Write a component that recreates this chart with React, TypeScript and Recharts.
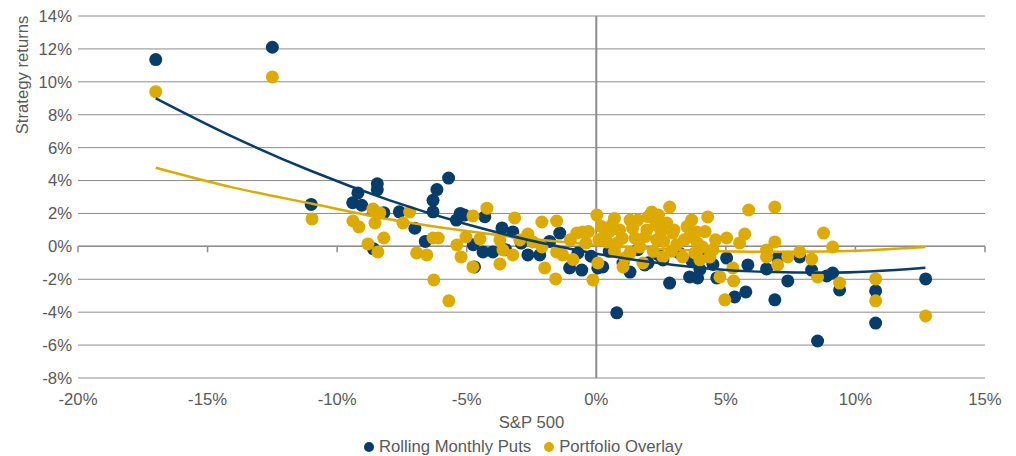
import {
  ScatterChart,
  Scatter,
  XAxis,
  YAxis,
  CartesianGrid,
  ReferenceLine,
  Legend,
  Label,
} from 'recharts'

const NAVY = '#073c6b'
const GOLD = '#dcaa00'
const GRID = '#8c8c8c'
const TEXT = '#595959'
const FONT = '"Liberation Sans", Arial, sans-serif'
const FONT_SIZE = 16.7

// S&P 500 monthly return vs strategy return, both in %
const monthlyPuts: [number, number][] = [
  [-17.0, 11.35], [-12.5, 12.1], [-11.0, 2.55], [-9.4, 2.65], [-9.2, 3.25], [-9.05, 2.5],
  [-8.45, 3.8], [-8.45, 3.45], [-8.6, 2.2], [-8.6, -0.15], [-8.2, 2.05], [-7.6, 2.1],
  [-7.0, 1.1], [-6.6, 0.3], [-6.3, 2.8], [-6.3, 2.1], [-6.15, 3.45], [-5.7, 4.15],
  [-5.4, 1.6], [-5.25, 2.0], [-5.1, 1.9], [-4.75, 0.1], [-4.7, -1.25], [-4.3, 1.8],
  [-4.37, -0.34], [-3.99, -0.34], [-3.64, 1.12], [-3.22, 0.88], [-2.64, -0.52], [-2.18, -0.52],
  [-1.41, 0.81], [-1.03, -1.31], [-0.56, -1.44], [-0.71, -0.4], [0.06, -1.31], [0.25, -1.25],
  [1.03, -1.01], [1.3, -1.56], [1.87, -1.13], [2.57, -0.83], [2.83, -2.23], [3.6, -1.86],
  [3.91, -1.92], [0.79, -4.04], [4.65, -1.92], [5.03, -0.71], [5.34, -3.07], [5.77, -2.77],
  [5.85, -1.13], [6.57, -1.37], [7.0, -0.71], [7.39, -2.1], [6.89, -3.25], [7.85, -0.64],
  [8.31, -1.44], [8.89, -1.8], [9.12, -1.62], [9.39, -2.65], [8.54, -5.75], [10.78, -2.71],
  [10.78, -4.66], [12.71, -1.98], [0.5, -0.3], [1.6, -0.2], [2.4, -0.5], [3.2, -0.4],
  [3.7, -0.9], [4.3, -0.6], [-1.8, 0.3], [-2.9, 0.2], [-0.2, -0.6], [4.5, -1.1],
  [-3.5, -0.2], [2.0, -1.0], [4.0, -1.4],
]

const portfolioOverlay: [number, number][] = [
  [-17.0, 9.4], [-12.5, 10.3], [-10.97, 1.67], [-9.39, 1.54], [-9.16, 1.18], [-8.62, 2.27],
  [-8.35, 2.03], [-8.54, 1.42], [-8.81, 0.15], [-8.2, 0.51], [-8.43, -0.34], [-7.46, 1.42],
  [-7.2, 2.09], [-6.93, -0.4], [-6.54, -0.52], [-6.3, 0.51], [-6.1, 0.51], [-6.27, -2.04],
  [-5.69, -3.31], [-5.38, 0.09], [-5.22, -0.64], [-5.03, 0.57], [-4.76, 1.85], [-4.76, -1.25],
  [-4.49, 0.45], [-4.22, 2.32], [-3.72, -1.07], [-3.72, 0.39], [-3.15, 1.73], [-3.22, -0.52],
  [-2.64, 0.75], [-2.1, 1.48], [-1.53, 1.54], [-1.99, -1.31], [-1.57, -1.98], [-1.53, -0.34],
  [-1.3, -0.52], [-0.75, 0.81], [-0.52, 0.88], [-0.13, -2.04], [0.02, 1.9], [0.06, -1.01],
  [-2.1, -0.04], [-2.45, 0.27], [-3.6, -0.22], [-2.95, 0.39], [0.6, 1.3], [1.3, 1.6],
  [2.14, 2.09], [2.83, 2.39], [3.68, 1.6], [4.3, 1.79], [5.03, 0.51], [0.41, 0.27],
  [1.68, -0.04], [2.33, 0.39], [2.95, 0.81], [3.6, 0.57], [4.1, -0.04], [3.33, -0.64],
  [4.38, -0.64], [4.77, -1.86], [5.3, -2.1], [4.96, -3.25], [0.9, 1.0], [1.95, 1.0],
  [2.72, 1.42], [3.87, 0.88], [1.3, -0.4], [2.57, -0.64], [4.0, -0.83], [1.03, -1.25],
  [1.8, -1.01], [5.88, 2.21], [6.89, 2.39], [5.73, 0.75], [5.53, 0.21], [6.57, -0.22],
  [6.89, 0.27], [7.0, -1.13], [7.39, -0.64], [7.85, -0.34], [8.31, -0.77], [8.77, 0.81],
  [9.12, -0.04], [8.54, -1.86], [9.39, -2.23], [5.27, -1.31], [6.57, -0.64], [10.78, -1.98],
  [10.78, -3.31], [12.71, -4.23], [0.3, 0.6], [0.8, 0.2], [1.5, 0.5], [2.0, 1.8],
  [2.5, 0.9], [0.2, 1.2], [1.1, -0.7], [3.1, 0.1], [-0.4, 0.2], [-1.0, 0.4],
  [3.5, 1.2], [2.2, -0.3], [4.6, 0.4], [-0.9, -0.8], [0.7, -0.3],
  [0.5, 0.9], [1.0, 0.5], [1.4, 1.1], [1.9, 0.6], [2.3, 1.3], [2.6, 0.3],
  [3.0, 1.0], [3.4, 0.4], [3.9, 0.2], [4.2, 0.9], [4.5, -0.2], [0.1, 0.4],
  [1.6, 1.6], [2.9, -0.3], [3.8, -0.4], [-0.3, 0.9], [0.7, 1.7], [2.4, 1.9],
]

// trend lines
const putsTrend: [number, number][] = [
  [-17, 9.0], [-14, 6.64], [-11, 4.58], [-8, 2.81], [-5, 1.34], [-2, 0.17],
  [0, -0.45], [3, -1.13], [6, -1.52], [9, -1.6], [12.7, -1.3],
]
const overlayTrend: [number, number][] = [
  [-17, 4.78], [-14, 3.57], [-11, 2.6], [-8, 1.65], [-5, 0.93], [-2, 0.37],
  [0, 0.08], [3, -0.21], [6, -0.33], [9, -0.31], [12.7, -0.04],
]

const xTicks = [-20, -15, -10, -5, 0, 5, 10, 15]
const yTicks = [-8, -6, -4, -2, 0, 2, 4, 6, 8, 10, 12, 14]

const toPoints = (rows: [number, number][]) => rows.map(([x, y]) => ({ x, y }))

const dot = (fill: string) => (props: any) =>
  <circle cx={props.cx} cy={props.cy} r={6.5} fill={fill} />

const noDot = () => <g />

const legendItems = [
  { name: 'Rolling Monthly Puts', color: NAVY },
  { name: 'Portfolio Overlay', color: GOLD },
]

function ChartLegend() {
  return (
    <div
      style={{
        display: 'flex',
        alignItems: 'center',
        height: 22,
        paddingTop: 4,
        paddingLeft: 356,
        boxSizing: 'border-box',
        fontFamily: FONT,
        fontSize: FONT_SIZE,
        color: TEXT,
      }}
    >
      {legendItems.map((item) => (
        <span key={item.name} style={{ display: 'flex', alignItems: 'center', marginRight: 13 }}>
          <svg width={10} height={10} style={{ marginRight: 5 }}>
            <circle cx={5} cy={5} r={5} fill={item.color} />
          </svg>
          {item.name}
        </span>
      ))}
    </div>
  )
}

function YTitle() {
  return (
    <text
      x={14}
      y={67}
      transform="rotate(-90 14 67)"
      textAnchor="middle"
      dominantBaseline="central"
      fill={TEXT}
      fontSize={FONT_SIZE}
      fontFamily={FONT}
    >
      Strategy returns
    </text>
  )
}

export default function App() {
  const tick = { fill: TEXT, fontSize: FONT_SIZE, fontFamily: FONT }
  return (
    <ScatterChart width={1000} height={448} margin={{ top: 8, right: 23, left: 0, bottom: 0 }}>
      <CartesianGrid vertical={false} stroke={GRID} strokeWidth={1} />
      <XAxis
        type="number"
        dataKey="x"
        domain={[-20, 15]}
        ticks={xTicks}
        tickFormatter={(v) => `${v}%`}
        axisLine={false}
        tickLine={false}
        tickMargin={9}
        tick={tick}
        height={56}
        interval={0}
      >
        <Label value="S&P 500" position="insideBottom" offset={6} fill={TEXT} fontSize={FONT_SIZE} fontFamily={FONT} />
      </XAxis>
      <YAxis
        type="number"
        dataKey="y"
        domain={[-8, 14]}
        ticks={yTicks}
        tickFormatter={(v) => `${v}%`}
        axisLine={false}
        tickLine={false}
        tickMargin={0}
        tick={tick}
        width={70}
        interval={0}
      >
        <Label content={<YTitle />} />
      </YAxis>
      <ReferenceLine x={0} stroke={GRID} strokeWidth={2} />
      <ReferenceLine y={0} stroke={GRID} strokeWidth={1.5} />
      {xTicks.map((t) => (
        <ReferenceLine
          key={t}
          segment={[{ x: t, y: 0 }, { x: t, y: -0.36 }]}
          stroke={GRID}
          strokeWidth={1.5}
        />
      ))}
      <Scatter
        name="Rolling Monthly Puts"
        data={toPoints(monthlyPuts)}
        fill={NAVY}
        shape={dot(NAVY)}
        isAnimationActive={false}
      />
      <Scatter
        name="Portfolio Overlay"
        data={toPoints(portfolioOverlay)}
        fill={GOLD}
        shape={dot(GOLD)}
        isAnimationActive={false}
      />
      <Scatter
        data={toPoints(overlayTrend)}
        line={{ stroke: GOLD, strokeWidth: 2.5 }}
        lineJointType="monotoneX"
        shape={noDot}
        legendType="none"
        isAnimationActive={false}
      />
      <Scatter
        data={toPoints(putsTrend)}
        line={{ stroke: NAVY, strokeWidth: 2.5 }}
        lineJointType="monotoneX"
        shape={noDot}
        legendType="none"
        isAnimationActive={false}
      />
      <Legend verticalAlign="bottom" height={22} content={<ChartLegend />} />
    </ScatterChart>
  )
}
